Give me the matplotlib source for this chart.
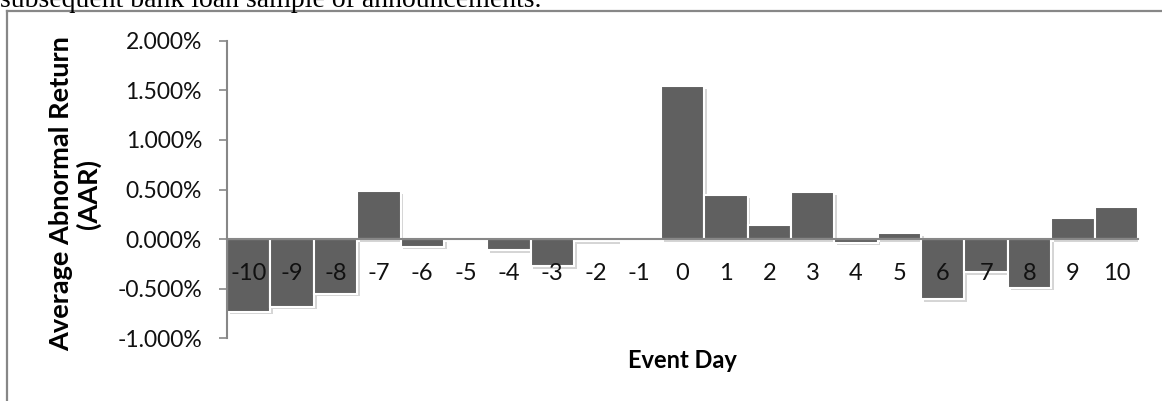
import matplotlib
matplotlib.use("Agg")
import matplotlib.pyplot as plt
import matplotlib.patheffects as pe
from matplotlib.lines import Line2D
from matplotlib.ticker import FuncFormatter

# event days and average abnormal returns (in %)
event_days = list(range(-10, 11))
aar = [-0.73, -0.68, -0.55, 0.48, -0.075, 0.0, -0.11, -0.275, -0.02, 0.0,
       1.54, 0.445, 0.145, 0.473, -0.035, 0.06, -0.605, -0.332, -0.49, 0.211, 0.328]
y_ticks = [-1.0, -0.5, 0.0, 0.5, 1.0, 1.5, 2.0]

caption = "subsequent bank loan sample of announcements."
x_label = "Event Day"
y_label = "Average Abnormal Return\n(AAR)"

W, H = 1162, 401
fig = plt.figure(figsize=(W / 100, H / 100), dpi=100)
plt.rcParams['font.family'] = ['Lato', 'DejaVu Sans']

ax = fig.add_axes([227 / W, 1 - 338.3 / H, (1138 - 227) / W, (338.3 - 40.7) / H])

bars = ax.bar(event_days, aar, width=1.0, color="#606060", edgecolor="white", linewidth=1.5, zorder=1)
for b in bars:
    b.set_path_effects([pe.SimplePatchShadow(offset=(2, -2), shadow_rgbFace="#888888", alpha=0.35),
                        pe.Normal()])

ax.set_xlim(-10.5, 10.5)
ax.set_ylim(-1.0, 2.0)
ax.set_yticks(y_ticks)
ax.yaxis.set_major_formatter(FuncFormatter(lambda v, p: f"{v:.3f}%"))
ax.set_xticks(event_days)
ax.set_xticklabels([str(d) for d in event_days])

grey = "#878787"
for s in ["top", "right"]:
    ax.spines[s].set_visible(False)
ax.spines["bottom"].set_position(("data", 0))
ax.spines["bottom"].set_color(grey)
ax.spines["bottom"].set_linewidth(1.5)
ax.spines["left"].set_color(grey)
ax.spines["left"].set_linewidth(1.5)

ax.tick_params(axis="y", direction="out", length=6, width=1.2, color=grey,
               labelsize=16.5, pad=12, labelcolor="#111111")
ax.tick_params(axis="x", length=0, labelsize=17, pad=17, labelcolor="#111111")
ax.set_axisbelow(False)

fig.text(682 / W, 1 - 360 / H, x_label, ha="center", va="center", fontsize=17, fontweight="bold")
fig.text(75 / W, 1 - 194 / H, y_label, ha="center", va="center", rotation=90,
         fontsize=19.5, fontweight="bold", linespacing=1.1)

fig.text(0.0, 1 - 7 / H, caption, ha="left", va="baseline", fontsize=20,
         family="Liberation Serif")

# outer chart frame (top and left edges visible)
fig.add_artist(Line2D([7 / W, 1.0], [1 - 11 / H, 1 - 11 / H], color=grey, lw=1.6))
fig.add_artist(Line2D([7 / W, 7 / W], [1 - 11 / H, 0.0], color=grey, lw=1.6))

fig.savefig("out.png", dpi=100)
